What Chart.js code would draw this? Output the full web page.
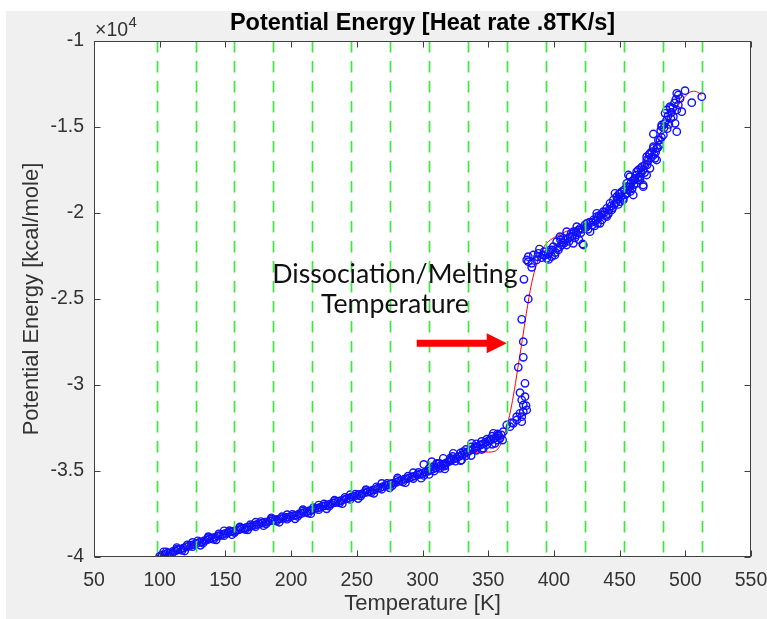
<!DOCTYPE html>
<html>
<head>
<meta charset="utf-8">
<script src="https://cdn.jsdelivr.net/npm/chart.js@4.4.1/dist/chart.umd.min.js"></script>
<style>
  html, body { margin: 0; padding: 0; background: #fff; }
  #wrap { width: 767px; height: 619px; }
</style>
</head>
<body>
<div id="wrap"><canvas id="pe" width="767" height="619"></canvas></div>
<script>
// axis ticks (energy in kcal/mole, labels shown in units of 1e4)
const X_TICKS = [50, 100, 150, 200, 250, 300, 350, 400, 450, 500, 550];
const Y_TICKS = [-40000, -35000, -30000, -25000, -20000, -15000, -10000];

// dashed green temperature markers
const GUIDE_TEMPS = [97.6, 127.3, 156.9, 186.6, 216.2, 245.9, 275.6, 305.2, 334.9,
                     364.5, 394.2, 423.9, 453.5, 483.2, 512.8];

// solid phase: main band [T, E]
const LOW_BAND = [
  [100,-39950],[102,-39880],[104,-39860],[106,-39780],[108,-39760],[110,-39680],[112,-39650],
  [114,-39580],[116,-39540],[118,-39480],[120,-39410],[122,-39390],[124,-39310],[126,-39280],
  [128,-39210],[130,-39150],[132,-39120],[134,-39050],[136,-39010],[138,-38950],[140,-38890],
  [142,-38860],[144,-38780],[146,-38760],[148,-38680],[150,-38630],[152,-38600],[154,-38530],
  [156,-38510],[158,-38450],[160,-38420],[162,-38370],[164,-38330],[166,-38280],[168,-38250],
  [170,-38200],[172,-38150],[174,-38110],[176,-38060],[178,-38030],[180,-37980],[182,-37960],
  [184,-37900],[186,-37880],[188,-37830],[190,-37810],[192,-37770],[194,-37750],[196,-37700],
  [198,-37690],[200,-37660],[202,-37600],[204,-37570],[206,-37500],[208,-37470],[210,-37410],
  [212,-37370],[214,-37310],[216,-37270],[218,-37200],[220,-37160],[222,-37120],[224,-37050],
  [226,-37020],[228,-36950],[230,-36920],[232,-36860],[234,-36830],[236,-36760],[238,-36720],
  [240,-36670],[242,-36610],[244,-36580],[246,-36510],[248,-36480],[250,-36420],[252,-36360],
  [254,-36330],[256,-36260],[258,-36230],[260,-36170],[262,-36110],[264,-36080],[266,-36000],
  [268,-35970],[270,-35910],[272,-35850],[274,-35820],[276,-35740],[278,-35710],[280,-35660],
  [282,-35590],[284,-35560],[286,-35480],[288,-35450],[290,-35400],[292,-35330],[294,-35300],
  [296,-35220],[298,-35190],[300,-35150],[302,-35070],[304,-35020],[306,-34960],[308,-34880],
  [310,-34830],[312,-34740],[314,-34680],[316,-34600],[318,-34530],[320,-34450],[322,-34390],
  [324,-34300],[326,-34240],[328,-34150],[330,-34080],[332,-33990],[334,-33920],[336,-33820],
  [338,-33750],[340,-33650],[342,-33580],[344,-33490],[346,-33430],[348,-33330],[350,-33250],
  [352,-33200],[354,-33120],[356,-33060],[358,-32960],[360,-32900]
];

// second pass through the band
const LOW_BAND_B = [
  [101,-39990],[105,-39700],[109,-39850],[113,-39540],[117,-39620],[121,-39300],[125,-39400],
  [129,-39060],[133,-39200],[137,-38880],[141,-38980],[145,-38660],[149,-38760],[153,-38470],
  [157,-38580],[161,-38300],[165,-38400],[169,-38120],[173,-38240],[177,-37940],[181,-38080],
  [185,-37800],[189,-37920],[193,-37660],[197,-37800],[201,-37520],[205,-37640],[209,-37330],
  [213,-37450],[217,-37130],[221,-37250],[225,-36920],[229,-37050],[233,-36730],[237,-36850],
  [241,-36530],[245,-36650],[249,-36340],[253,-36460],[257,-36130],[261,-36250],[265,-35920],
  [269,-36060],[273,-35720],[277,-35850],[281,-35500],[285,-35640],[289,-35300],[293,-35440],
  [297,-35080],[301,-35260],[305,-34840],[309,-35000],[313,-34560],[317,-34720],[321,-34260],
  [325,-34430],[329,-33950],[333,-34120],[337,-33600],[341,-33800],[345,-33280],[349,-33470],
  [353,-32980],[357,-33200]
];

// scatter around the band
const BAND_SPREAD = [
  [103,-39700],[107,-39960],[113,-39450],[119,-39650],[125,-39150],[131,-39320],[137,-38820],
  [143,-39000],[149,-38480],[155,-38700],[161,-38250],[167,-38420],[173,-37980],[179,-38180],
  [185,-37720],[191,-37980],[197,-37540],[203,-37780],[209,-37250],[215,-37480],[221,-36980],
  [227,-37200],[233,-36700],[239,-36900],[245,-36380],[251,-36600],[257,-36080],[263,-36300],
  [269,-35720],[275,-35980],[281,-35400],[287,-35680],[293,-35100],[299,-35420],[301,-34620],
  [305,-35200],[311,-34600],[317,-34880],[323,-34150],[329,-34400],[333,-33750],[337,-34100],
  [341,-33420],[345,-33750],[349,-33150],[353,-33450],[357,-32850],[361,-33200],
  [307,-34456],[308.2,-34750],[310.8,-34552],[313.3,-34843],[315.8,-34262],[317.1,-34651],
  [320.9,-34360],[323.4,-33971],[329.8,-34360],[331.1,-33878],[337.4,-33390],[340,-33587],
  [343.8,-33488],[346.3,-33680],[351.4,-33198],[353.9,-32809],[355.2,-33390],[357.7,-32907],
  [359,-33100],[361.5,-32715]
];

// melting jump
const JUMP_POINTS = [
  [364.1,-32326],[366.6,-32424],[367.9,-32190],[369.1,-32227],[371.7,-32035],[371.7,-31843],
  [375.5,-32133],[375.5,-31843],[374.2,-31647],[376.7,-31552],[379.3,-31453],[378.8,-31203],
  [376.7,-31163],[375.5,-30872],[378,-30680],[374.2,-30448],[378,-29901],[372.9,-28971],
  [376.7,-28390],[376.7,-27483],[375.5,-26180],[380.5,-25000],[377.2,-23855]
];

// liquid branch
const HIGH_BRANCH = [
  [379.3,-22733],[380.5,-22831],[380.5,-22540],[383.1,-23157],[383.1,-22924],[384.3,-22442],
  [386.9,-22733],[388.1,-22343],[389,-22100],[391.9,-22442],[392.5,-22250],[394.5,-22634],
  [395.7,-22384],[396,-22700],[397,-22151],[398.3,-22540],[399.5,-21959],[400.8,-22442],
  [401,-22300],[402.1,-21668],[403.4,-22151],[404.6,-21959],[404.6,-21378],[405.9,-21860],
  [406.5,-21700],[407.2,-21471],[408.4,-21570],[409.7,-21860],[409.7,-21087],[410.8,-21500],
  [412.3,-21378],[413,-21200],[414.8,-21762],[414.8,-21087],[416,-21450],[417.4,-21279],
  [417.4,-20797],[418.5,-21000],[419.9,-20890],[420.5,-21150],[421.9,-21802],[422.4,-21860],
  [423.5,-20700],[425,-20797],[425,-20600],[426,-20950],[427.5,-21087],[428.5,-20550],
  [430,-20407],[431,-20750],[432.6,-20017],[432.6,-20215],[433.8,-20308],[434.5,-20150],
  [435.1,-20600],[436.5,-20400],[437.6,-19924],[438.8,-19950],[440.2,-20215],[440.2,-19727],
  [441.5,-20050],[442.7,-19436],[443.5,-19600],[444,-19826],[445.2,-19244],[446,-19500],
  [446.5,-18855],[447.8,-19053],[448.8,-19200],[449.5,-18900],[450.3,-19343],[450.3,-18855],
  [451.6,-18762],[452.8,-19147],[452.8,-19244],[453.5,-18650],[455.4,-18855],[455.4,-18471],
  [455.4,-18273],[456,-18650],[456.7,-17790],[457.9,-18471],[457.9,-17890],[458.7,-18250],
  [459.5,-18600],[460.4,-18953],[460.4,-18081],[461.7,-18081],[461.7,-17983],[462.5,-17800],
  [463,-18273],[463,-17599],[464.2,-17500],[464.2,-18081],[465.5,-17890],[465.5,-18081],
  [466.5,-17650],[467.2,-17300],[468,-18471],[468,-18372],[468,-17500],[469.3,-17209],
  [470.6,-17791],[470.6,-16919],[470.6,-16727],[471.8,-16950],[472.5,-16600],[473.1,-16531],
  [473.1,-17401],[474.4,-16436],[475.7,-16240],[475.7,-16143],[475.7,-15407],[476.9,-16820],
  [477.5,-16450],[478.2,-16240],[478.2,-16919],[479.5,-15756],[480.5,-16050],[480.7,-15756],
  [481.3,-15200],[482,-14884],[482,-14981],[483.3,-15465],[483.8,-15050],[484.6,-14206],
  [485.8,-14012],[485.8,-14593],[486.8,-14350],[487.5,-14850],[488.4,-13820],[488.4,-13913],
  [489.5,-14150],[490.9,-14401],[491.8,-13600],[492.2,-14787],[493.5,-14012],[493.5,-13041],
  [493.5,-15273],[494.7,-13721],[494.7,-13140],[496,-13350],[497.3,-14110],[499.8,-12888],
  [504.9,-13587],[512.5,-13238],
  [387.5,-22550],[390.5,-22600],[393.5,-22450],[396.8,-22250],[399,-22150],[402.8,-22050],
  [405,-21550],[407.8,-21750],[411.5,-21650],[413.8,-21350],[416.8,-21100],[419,-21550],
  [421,-20950],[424.2,-20850],[426.8,-20550],[429.2,-20700],[431.8,-20450],[433.2,-20600],
  [436,-20100],[439.5,-20150],[442,-19800],[444.8,-19700],[447.2,-19400],[449,-19500],
  [451,-19050],[454.2,-18950],[456.5,-18500],[458.2,-18750],[461,-18350],[463.8,-17950],
  [466,-17400],[469,-17650],[471,-17200],[474,-16800],[476.3,-16600],[479,-16200],
  [481.8,-15600],[484.2,-14800],[486.2,-15100],[489,-14500],[490.5,-13900],[492.8,-13400]
];

// fitted curve [T, E]
const FIT_CURVE = [
  [100,-39950],[120,-39420],[140,-38900],[160,-38430],[180,-37990],[200,-37650],[220,-37170],
  [240,-36680],[260,-36180],[280,-35670],[300,-35160],[320,-34520],[335,-34050],[345,-33880],
  [350,-33900],[355,-33850],[358,-33650],[361,-33200],[364,-32450],[367,-31500],[370,-30250],
  [373,-28800],[376,-27350],[379,-25850],[383,-24100],[387,-22950],[391,-22150],[396,-21650],
  [402,-21350],[410,-21050],[417,-20930],[422,-20850],[432,-20250],[442,-19600],[452,-18900],
  [462,-18050],[470,-17100],[477,-16150],[483,-15350],[487,-14750],[491,-14250],[495,-13700],
  [499,-13300],[503,-13000],[507,-12920],[510,-13000],[512.5,-13150]
];

const NOTE_LINES = ['Dissociation/Melting', 'Temperature'];
const NOTE_AT = [[279, -24087], [279, -25797]];   // baseline anchors
const ARROW_TAIL = [295.6, -27576];
const ARROW_TIP = [364.1, -27576];

const toXY = pts => pts.map(p => ({ x: p[0], y: p[1] }));
const scatterPts = toXY([].concat(LOW_BAND, LOW_BAND_B, BAND_SPREAD, JUMP_POINTS, HIGH_BRANCH));

const TICK_FONT = { family: 'Liberation Sans, Arial, sans-serif', size: 19.5 };
const LABEL_FONT = { family: 'Liberation Sans, Arial, sans-serif', size: 22 };

// grey figure background, white axes area
const figureBg = {
  id: 'figureBg',
  beforeDraw(chart) {
    const { ctx, chartArea: a } = chart;
    ctx.save();
    ctx.fillStyle = '#ffffff';
    ctx.fillRect(0, 0, chart.width, chart.height);
    ctx.fillStyle = '#f0f0f0';
    ctx.fillRect(6, 11, chart.width - 6, chart.height - 11);
    ctx.fillStyle = '#ffffff';
    ctx.fillRect(a.left, a.top, a.right - a.left, a.bottom - a.top);
    ctx.restore();
  }
};

// guides, box, inward ticks, title, exponent, note and arrow
const overlay = {
  id: 'overlay',
  afterDatasetsDraw(chart) {
    const { ctx, chartArea: a, scales: { x, y } } = chart;
    ctx.save();

    ctx.strokeStyle = 'rgb(60,232,60)';
    ctx.lineWidth = 1.7;
    ctx.setLineDash([11.5, 8.5]);
    GUIDE_TEMPS.forEach(t => {
      const px = Math.round(x.getPixelForValue(t)) + 0.5;
      ctx.beginPath();
      ctx.moveTo(px, a.top);
      ctx.lineTo(px, a.bottom);
      ctx.stroke();
    });
    ctx.setLineDash([]);

    ctx.strokeStyle = '#404040';
    ctx.lineWidth = 1;
    const L = Math.round(a.left) + 0.5, R = Math.round(a.right) - 0.5;
    const T = Math.round(a.top) + 0.5, B = Math.round(a.bottom) - 0.5;
    ctx.strokeRect(L, T, R - L, B - T);
    ctx.beginPath();
    X_TICKS.forEach(v => {
      const px = Math.round(x.getPixelForValue(v)) + 0.5;
      ctx.moveTo(px, B); ctx.lineTo(px, B - 6);
      ctx.moveTo(px, T); ctx.lineTo(px, T + 6);
    });
    Y_TICKS.forEach(v => {
      const py = Math.round(y.getPixelForValue(v)) + 0.5;
      ctx.moveTo(L, py); ctx.lineTo(L + 6, py);
      ctx.moveTo(R, py); ctx.lineTo(R - 6, py);
    });
    ctx.stroke();

    // title
    ctx.fillStyle = '#000';
    ctx.textAlign = 'center';
    ctx.textBaseline = 'alphabetic';
    ctx.font = 'bold 23.5px Liberation Sans, Arial, sans-serif';
    ctx.fillText('Potential Energy [Heat rate .8TK/s]', (a.left + a.right) / 2, 30);

    // exponent label
    ctx.fillStyle = '#333';
    ctx.textAlign = 'left';
    ctx.font = '19.5px Liberation Sans, Arial, sans-serif';
    ctx.fillText('\u00d710', a.left + 1, 36);
    const w = ctx.measureText('\u00d710').width;
    ctx.font = '15px Liberation Sans, Arial, sans-serif';
    ctx.fillText('4', a.left + 1 + w + 0.5, 27);

    // note
    ctx.fillStyle = '#111';
    ctx.textAlign = 'center';
    ctx.font = '26.7px Lato, Open Sans, sans-serif';
    NOTE_LINES.forEach((s, i) => {
      ctx.fillText(s, x.getPixelForValue(NOTE_AT[i][0]), y.getPixelForValue(NOTE_AT[i][1]));
    });

    // arrow
    const x0 = x.getPixelForValue(ARROW_TAIL[0]);
    const x1 = x.getPixelForValue(ARROW_TIP[0]);
    const yy = y.getPixelForValue(ARROW_TIP[1]);
    const head = 20, half = 10, shaft = 3.5;
    ctx.fillStyle = '#ff0000';
    ctx.beginPath();
    ctx.moveTo(x0, yy - shaft);
    ctx.lineTo(x1 - head, yy - shaft);
    ctx.lineTo(x1 - head, yy - half);
    ctx.lineTo(x1, yy);
    ctx.lineTo(x1 - head, yy + half);
    ctx.lineTo(x1 - head, yy + shaft);
    ctx.lineTo(x0, yy + shaft);
    ctx.closePath();
    ctx.fill();

    ctx.restore();
  }
};

new Chart(document.getElementById('pe'), {
  type: 'scatter',
  data: {
    datasets: [
      {
        label: 'MD',
        data: scatterPts,
        pointStyle: 'circle',
        pointRadius: 3.7,
        borderColor: '#1010ff',
        backgroundColor: 'rgba(0,0,0,0)',
        borderWidth: 1.4,
        order: 0
      },
      {
        type: 'line',
        label: 'fit',
        data: toXY(FIT_CURVE),
        borderColor: '#ff0000',
        borderWidth: 1,
        pointRadius: 0,
        fill: false,
        cubicInterpolationMode: 'monotone',
        order: 1
      }
    ]
  },
  options: {
    responsive: false,
    animation: false,
    devicePixelRatio: 1,
    layout: { padding: { top: 41, right: 16, bottom: 0, left: 0 } },
    plugins: {
      legend: { display: false },
      tooltip: { enabled: false }
    },
    scales: {
      x: {
        type: 'linear',
        min: 50, max: 550,
        afterBuildTicks: s => { s.ticks = X_TICKS.map(v => ({ value: v })); },
        afterFit: s => { s.height = 62; s.paddingLeft = 0; s.paddingRight = 0; },
        grid: { display: false, drawTicks: false },
        border: { display: false },
        ticks: { color: '#333', font: TICK_FONT, padding: 12, maxRotation: 0 },
        title: { display: true, text: 'Temperature [K]', color: '#333', font: LABEL_FONT,
                 padding: { top: 0, bottom: 1.5 } }
      },
      y: {
        type: 'linear',
        min: -40000, max: -10000,
        afterBuildTicks: s => { s.ticks = Y_TICKS.map(v => ({ value: v })); },
        afterFit: s => { s.width = 94; s.paddingTop = 0; s.paddingBottom = 0; },
        grid: { display: false, drawTicks: false },
        border: { display: false },
        ticks: { color: '#333', font: TICK_FONT, padding: 10, callback: v => String(v / 1e4) },
        title: { display: true, text: 'Potential Energy [kcal/mole]', color: '#333', font: LABEL_FONT,
                 padding: { top: 18.5, bottom: 0 } }
      }
    }
  },
  plugins: [figureBg, overlay]
});
</script>
</body>
</html>
